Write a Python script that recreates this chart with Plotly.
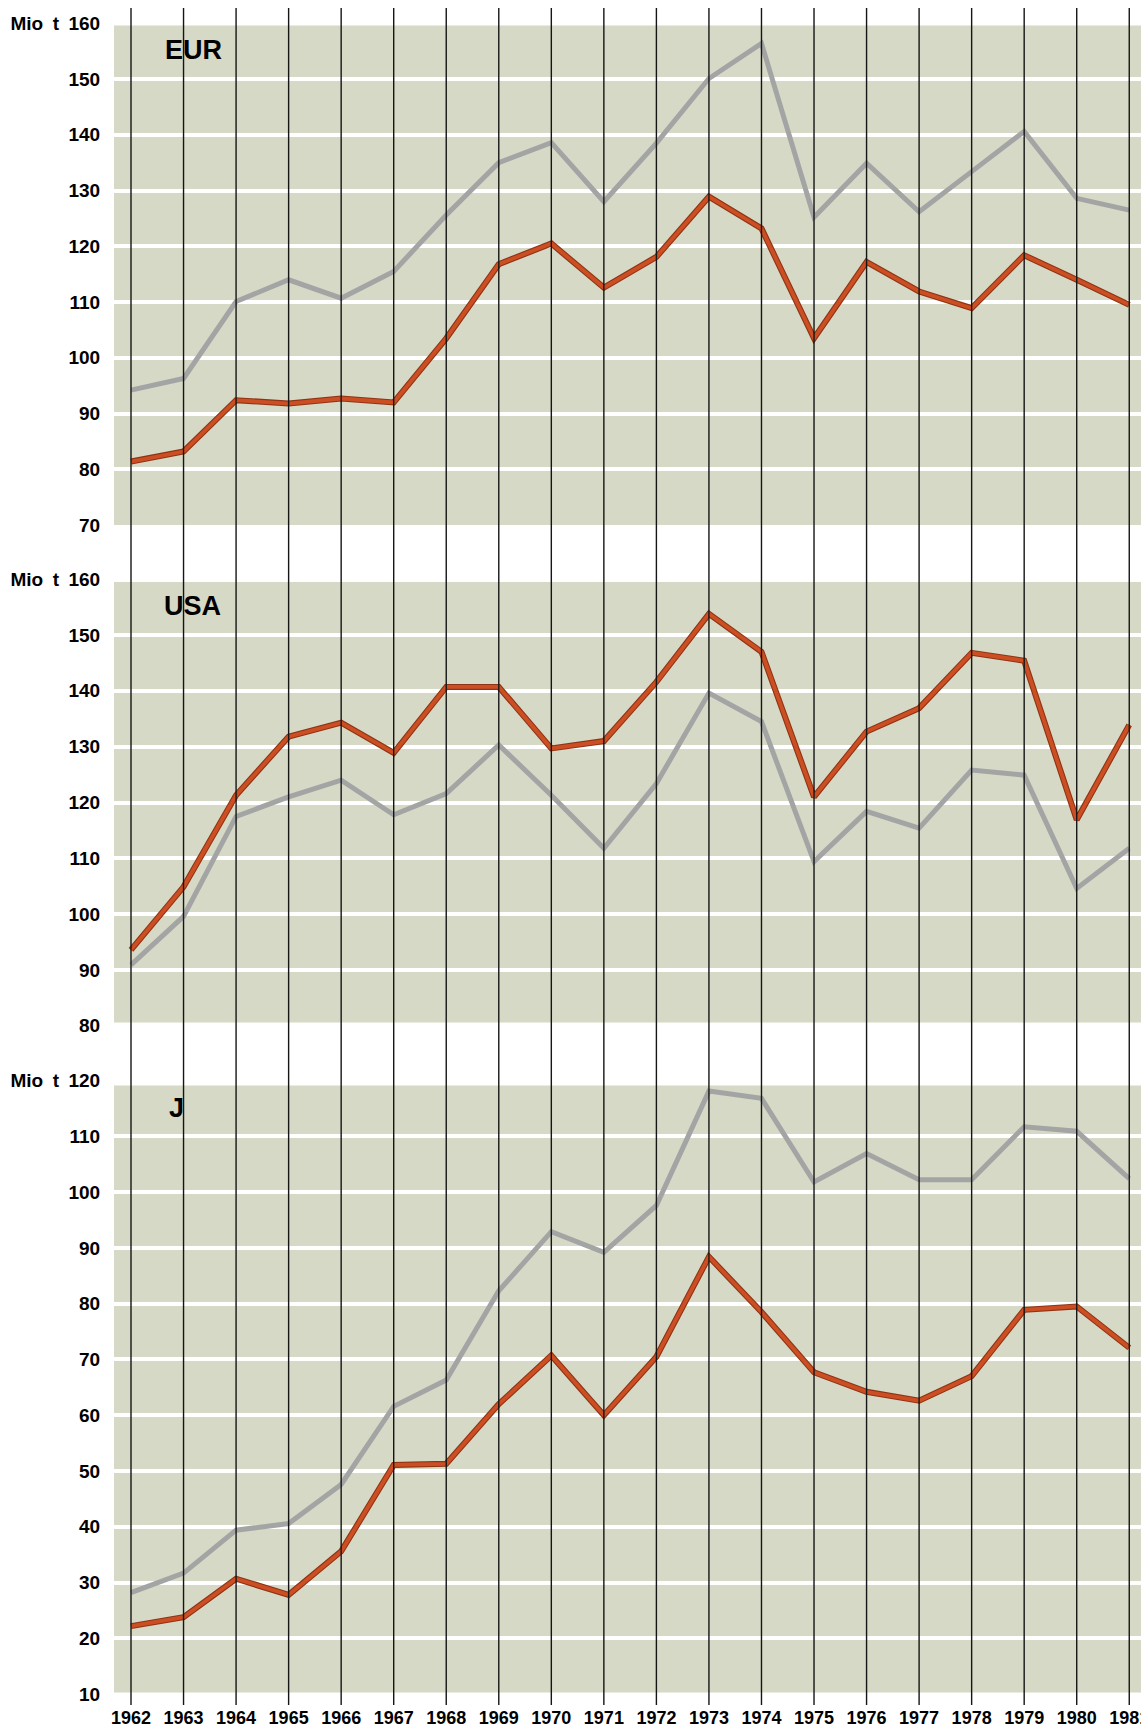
import plotly.graph_objects as go

# ---------------- data ----------------
years = [1962, 1963, 1964, 1965, 1966, 1967, 1968, 1969, 1970, 1971,
         1972, 1973, 1974, 1975, 1976, 1977, 1978, 1979, 1980, 1981]

eur_grey = [94.2, 96.3, 110.1, 114.0, 110.7, 115.5, 125.6, 135.0, 138.6, 128.0,
            138.5, 150.1, 156.4, 125.2, 134.9, 126.2, 133.4, 140.6, 128.6, 126.5]
eur_red = [81.4, 83.2, 92.4, 91.8, 92.7, 92.0, 103.5, 116.8, 120.5, 112.6,
           118.1, 128.9, 123.2, 103.5, 117.2, 111.9, 108.9, 118.4, 114.0, 109.5]

usa_grey = [90.9, 99.6, 117.5, 121.0, 124.0, 117.8, 121.6, 130.3, 121.3, 111.8,
            123.4, 139.6, 134.5, 109.4, 118.4, 115.4, 125.8, 124.9, 104.6, 111.8]
usa_red = [93.6, 104.9, 121.3, 131.8, 134.3, 128.9, 140.7, 140.7, 129.7, 131.0,
           141.6, 153.8, 147.0, 121.0, 132.7, 136.9, 146.8, 145.4, 116.9, 133.9]

j_grey = [28.2, 31.7, 39.4, 40.6, 47.6, 61.6, 66.3, 82.3, 92.9, 89.2,
          97.6, 118.1, 116.8, 101.8, 106.9, 102.2, 102.2, 111.7, 110.9, 102.4]
j_red = [22.2, 23.8, 30.7, 27.8, 35.6, 51.1, 51.3, 62.0, 70.7, 60.0,
         70.5, 88.4, 78.5, 67.7, 64.2, 62.6, 67.0, 78.9, 79.5, 72.1]

panel_names = ["EUR", "USA", "J"]
eur_ticks = [70, 80, 90, 100, 110, 120, 130, 140, 150, 160]
usa_ticks = [80, 90, 100, 110, 120, 130, 140, 150, 160]
j_ticks = [10, 20, 30, 40, 50, 60, 70, 80, 90, 100, 110, 120]
unit = "Mio t"

# ---------------- styles ----------------
GREY = "#a3a5a5"
RED_EDGE = "#8f3314"
RED = "#cc4f24"
BAND = "#d6d9c5"
FONT = "Liberation Sans, Arial, Helvetica, sans-serif"

fig = go.Figure()

panels = [
    ("y", eur_grey, eur_red),
    ("y2", usa_grey, usa_red),
    ("y3", j_grey, j_red),
]
for yax, grey, red in panels:
    fig.add_trace(go.Scatter(x=years, y=grey, mode="lines", yaxis=yax,
                             line=dict(color=GREY, width=5), hoverinfo="skip",
                             showlegend=False))
    fig.add_trace(go.Scatter(x=years, y=red, mode="lines", yaxis=yax,
                             line=dict(color=RED_EDGE, width=6), hoverinfo="skip",
                             showlegend=False))
    fig.add_trace(go.Scatter(x=years, y=red, mode="lines", yaxis=yax,
                             line=dict(color=RED, width=3.8), hoverinfo="skip",
                             showlegend=False))


def ticktext(vals):
    out = [str(v) for v in vals]
    out[-1] = unit.replace(" ", "\u2002") + "\u2002" + out[-1]
    return out


ytickfont = dict(family=FONT, size=19, color="black", weight="bold")
xtickfont = dict(family=FONT, size=18, color="black", weight="bold")
common_y = dict(showgrid=True, gridcolor="white", gridwidth=3.5, zeroline=False,
                showline=False, ticks="outside", ticklen=9,
                tickcolor="rgba(0,0,0,0)", tickfont=ytickfont, anchor="x",
                automargin=False, fixedrange=True)

fig.update_layout(
    width=1141, height=1733, autosize=False,
    margin=dict(l=114, r=0, t=8, b=28, pad=0, autoexpand=False),
    paper_bgcolor="white", plot_bgcolor="white",
    xaxis=dict(range=[1961.6764, 1981.2234], tickvals=years,
               ticktext=[str(y) for y in years], showgrid=False, zeroline=False,
               showline=False, ticks="",
               tickfont=xtickfont,
               ticklabeloverflow="allow", automargin=False,
               anchor="free", position=0, fixedrange=True),
    yaxis=dict(domain=[0.69529, 0.99098], range=[70, 160], tickvals=eur_ticks,
               ticktext=ticktext(eur_ticks), **common_y),
    yaxis2=dict(domain=[0.40023, 0.66341], range=[80, 160], tickvals=usa_ticks,
                ticktext=ticktext(usa_ticks), **common_y),
    yaxis3=dict(domain=[0.00636, 0.36800], range=[10, 120], tickvals=j_ticks,
                ticktext=ticktext(j_ticks), **common_y),
)

# background bands for each panel (below gridlines)
bands = [("y", 70, 159.6), ("y2", 80.6, 159.5), ("y3", 10.3, 119.1)]
for yref, lo, hi in bands:
    fig.add_shape(type="rect", xref="paper", x0=0, x1=1, yref=yref, y0=lo, y1=hi,
                  fillcolor=BAND, line=dict(width=0), layer="below")

# black vertical year lines through all panels
for yr in years:
    fig.add_shape(type="line", xref="x", x0=yr, x1=yr, yref="paper", y0=0, y1=1,
                  line=dict(color="#151515", width=1.4), layer="above")

# panel labels
label_pos = [("y", 0.0477, 155.2), ("y2", 0.0467, 155.2), ("y3", 0.0516, 115.1)]
for name, (yref, xp, yv) in zip(panel_names, label_pos):
    fig.add_annotation(text=name, xref="paper", x=xp, xanchor="left",
                       yref=yref, y=yv, yanchor="middle", showarrow=False,
                       font=dict(family=FONT, size=27, color="black", weight="bold"))

fig.write_html("out.html", config={"displayModeBar": False},
               post_script="document.body.style.margin='0';document.body.style.overflow='hidden';")
